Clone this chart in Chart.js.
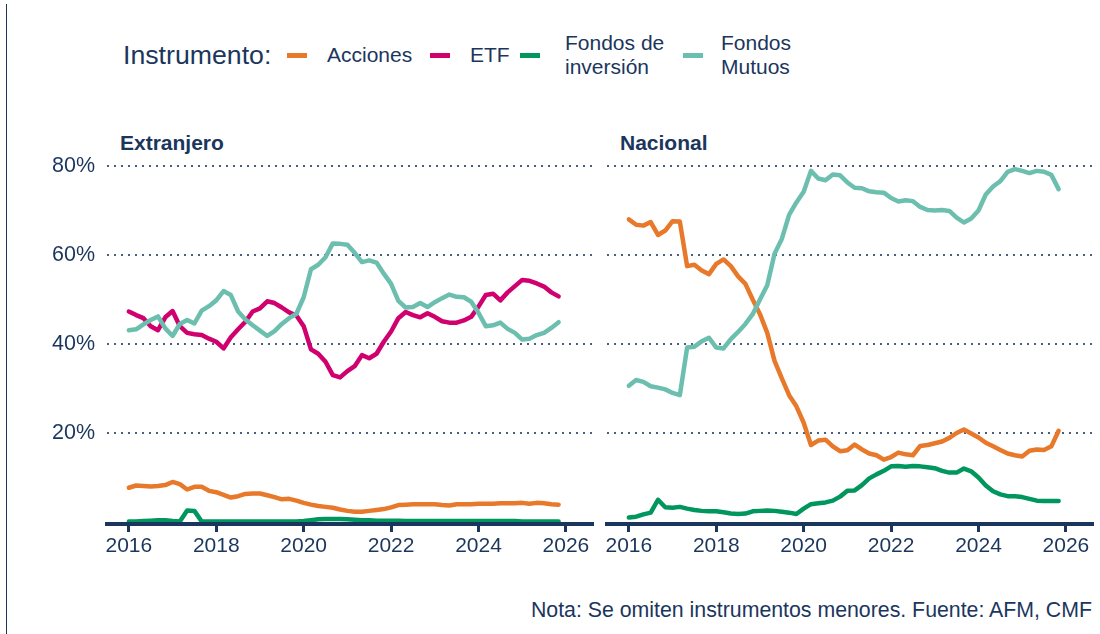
<!DOCTYPE html>
<html>
<head>
<meta charset="utf-8">
<script src="https://cdn.jsdelivr.net/npm/chart.js@4.4.1/dist/chart.umd.min.js"></script>
<style>
  body { margin: 0; background: #fff; }
  #page {
    position: relative; width: 1100px; height: 634px; overflow: hidden;
    font-family: "Liberation Sans", Arial, sans-serif; color: #1b365d;
  }
  #edge { position: absolute; left: 6px; top: 4px; width: 1px; height: 630px; background: #1b365d; }
  .txt { position: absolute; white-space: nowrap; }
  .sw { position: absolute; width: 20px; height: 5px; }
  canvas { position: absolute; top: 155px; }
</style>
</head>
<body>
<div id="page">
  <div id="edge"></div>

  <!-- leyenda -->
  <div class="txt" style="left:123px; top:40px; font-size:26.7px; line-height:30px;">Instrumento:</div>
  <div class="sw" style="left:287px; top:53px; background:#e8792b;"></div>
  <div class="txt" style="left:327px; top:43px; font-size:21px; line-height:24px;">Acciones</div>
  <div class="sw" style="left:430px; top:53px; background:#d0006f;"></div>
  <div class="txt" style="left:470px; top:43px; font-size:21px; line-height:24px;">ETF</div>
  <div class="sw" style="left:520px; top:53px; background:#00965e;"></div>
  <div class="txt" style="left:565px; top:31px; font-size:21px; line-height:24px;">Fondos de<br>inversión</div>
  <div class="sw" style="left:683px; top:53px; background:#6cbfaf;"></div>
  <div class="txt" style="left:721px; top:31px; font-size:21px; line-height:24px;">Fondos<br>Mutuos</div>

  <!-- títulos de panel -->
  <div class="txt" style="left:120px; top:131px; font-size:21px; line-height:24px; font-weight:bold;">Extranjero</div>
  <div class="txt" style="left:620px; top:131px; font-size:21px; line-height:24px; font-weight:bold;">Nacional</div>

  <canvas id="chartExt" width="600" height="420" style="left:0px;"></canvas>
  <canvas id="chartNac" width="500" height="420" style="left:600px;"></canvas>

  <div class="txt" style="right:8px; top:598px; font-size:21.3px; line-height:24px;">Nota: Se omiten instrumentos menores. Fuente: AFM, CMF</div>
</div>

<script>
/* =========================================================
   DATA
========================================================= */
const fechas = [
    '2016-01', '2016-03', '2016-05', '2016-07', '2016-09', '2016-11',
    '2017-01', '2017-03', '2017-05', '2017-07', '2017-09', '2017-11',
    '2018-01', '2018-03', '2018-05', '2018-07', '2018-09', '2018-11',
    '2019-01', '2019-03', '2019-05', '2019-07', '2019-09', '2019-11',
    '2020-01', '2020-03', '2020-05', '2020-07', '2020-09', '2020-11',
    '2021-01', '2021-03', '2021-05', '2021-07', '2021-09', '2021-11',
    '2022-01', '2022-03', '2022-05', '2022-07', '2022-09', '2022-11',
    '2023-01', '2023-03', '2023-05', '2023-07', '2023-09', '2023-11',
    '2024-01', '2024-03', '2024-05', '2024-07', '2024-09', '2024-11',
    '2025-01', '2025-03', '2025-05', '2025-07', '2025-09', '2025-11'
];

// Extranjero (% del total)
const extAcciones = [
    7.7, 8.2, 8.1, 8.0, 8.1, 8.3, 9.0, 8.5, 7.3, 7.9,
    7.9, 7.0, 6.7, 6.1, 5.5, 5.8, 6.3, 6.4, 6.4, 6.0,
    5.6, 5.1, 5.2, 4.8, 4.3, 3.9, 3.6, 3.4, 3.2, 2.8,
    2.5, 2.3, 2.3, 2.5, 2.7, 2.9, 3.3, 3.8, 3.9, 4.0,
    4.0, 4.0, 4.0, 3.8, 3.7, 4.0, 4.0, 4.0, 4.1, 4.1,
    4.1, 4.2, 4.2, 4.2, 4.3, 4.1, 4.3, 4.2, 4.0, 3.9
];
const extETF = [
    47.3, 46.5, 45.8, 44.0, 43.1, 46.0, 47.4, 44.0, 42.5, 42.2,
    42.0, 41.2, 40.5, 39.0, 41.5, 43.3, 45.0, 47.3, 48.0, 49.6,
    49.2, 48.2, 47.1, 46.4, 44.0, 38.8, 37.8, 36.0, 33.0, 32.5,
    33.9, 35.0, 37.5, 36.8, 37.8, 40.5, 42.8, 45.8, 47.2, 46.5,
    46.0, 46.9, 46.1, 45.1, 44.8, 44.8, 45.3, 46.1, 48.4, 51.0,
    51.3, 49.8, 51.6, 53.0, 54.4, 54.2, 53.6, 52.9, 51.6, 50.7
];
const extFondosInv = [
    0.1, 0.1, 0.2, 0.3, 0.4, 0.4, 0.2, 0.1, 2.6, 2.5,
    0.1, 0.1, 0.1, 0.1, 0.1, 0.1, 0.1, 0.1, 0.1, 0.1,
    0.1, 0.1, 0.1, 0.1, 0.2, 0.4, 0.6, 0.7, 0.7, 0.7,
    0.6, 0.5, 0.4, 0.4, 0.3, 0.3, 0.3, 0.3, 0.2, 0.2,
    0.2, 0.2, 0.2, 0.2, 0.2, 0.2, 0.2, 0.2, 0.2, 0.2,
    0.2, 0.2, 0.2, 0.2, 0.1, 0.1, 0.1, 0.1, 0.1, 0.1
];
const extFondosMut = [
    43.1, 43.3, 44.4, 45.4, 46.2, 43.5, 41.8, 44.5, 45.4, 44.6,
    47.5, 48.5, 49.8, 51.9, 51.0, 47.3, 45.5, 44.2, 43.0, 41.8,
    42.9, 44.5, 45.8, 46.8, 50.5, 56.8, 57.8, 59.5, 62.6, 62.5,
    62.3, 60.5, 58.4, 58.8, 58.3, 55.8, 53.5, 49.7, 48.2, 48.3,
    49.2, 48.3, 49.4, 50.3, 51.1, 50.6, 50.5, 49.5, 47.0, 44.0,
    44.2, 44.8, 43.4, 42.5, 41.0, 41.2, 42.0, 42.5, 43.6, 44.9
];

// Nacional (% del total)
const nacAcciones = [
    68.0, 66.8, 66.6, 67.4, 64.5, 65.5, 67.6, 67.5, 57.5, 57.8,
    56.5, 55.7, 58.0, 59.0, 57.5, 55.2, 53.5, 50.0, 46.7, 42.5,
    36.2, 32.3, 28.5, 26.0, 22.3, 17.3, 18.3, 18.5, 17.0, 15.9,
    16.1, 17.4, 16.3, 15.4, 15.0, 14.0, 14.6, 15.6, 15.2, 15.0,
    17.1, 17.3, 17.7, 18.1, 18.9, 20.0, 20.8, 19.9, 19.0, 17.8,
    17.0, 16.2, 15.4, 15.0, 14.7, 16.0, 16.3, 16.2, 17.0, 20.5
];
const nacFondosInv = [
    1.0, 1.2, 1.7, 2.1, 5.0, 3.3, 3.2, 3.4, 3.0, 2.7,
    2.5, 2.4, 2.4, 2.2, 1.9, 1.8, 1.9, 2.4, 2.5, 2.6,
    2.5, 2.3, 2.1, 1.8, 3.0, 4.0, 4.2, 4.4, 4.8, 5.7,
    7.0, 7.1, 8.3, 9.8, 10.7, 11.5, 12.5, 12.6, 12.4, 12.6,
    12.5, 12.3, 12.1, 11.5, 11.1, 11.1, 12.0, 11.4, 10.0, 8.2,
    6.9, 6.2, 5.8, 5.8, 5.6, 5.2, 4.8, 4.7, 4.7, 4.7
];
const nacFondosMut = [
    30.6, 31.9, 31.5, 30.5, 30.2, 29.8, 29.0, 28.5, 39.2, 39.4,
    40.6, 41.4, 39.2, 39.0, 41.1, 42.7, 44.5, 46.7, 50.0, 53.2,
    60.3, 63.6, 69.0, 71.8, 74.2, 78.9, 77.2, 76.8, 78.1, 77.9,
    76.3, 75.1, 75.0, 74.3, 74.1, 74.0, 72.8, 72.0, 72.3, 72.1,
    70.8, 70.1, 70.0, 70.1, 69.9, 68.4, 67.3, 68.2, 70.0, 73.6,
    75.4, 76.6, 78.7, 79.3, 78.9, 78.4, 78.9, 78.7, 78.0, 74.8
];

const xTicks = [2016, 2018, 2020, 2022, 2024, 2026];
const yTicks = [20, 40, 60, 80];

/* =========================================================
   STYLE
========================================================= */
const navy = '#1b365d';
const fontFamily = '"Liberation Sans", Arial, sans-serif';
const colores = {
    acciones: '#e8792b',
    etf: '#d0006f',
    fondosInv: '#00965e',
    fondosMut: '#6cbfaf'
};

/* =========================================================
   HELPER
========================================================= */
function anioDecimal(f) {
    const [y, m] = f.split('-').map(Number);
    return y + (m - 1) / 12;
}

function serie(values, color) {
    return {
        data: values.map((v, i) => ({ x: anioDecimal(fechas[i]), y: v })),
        borderColor: color,
        backgroundColor: color
    };
}

function panelOptions(conEtiquetasY) {
    return {
        responsive: false,
        animation: false,
        devicePixelRatio: 1,
        layout: { padding: { top: 8, right: 7, left: 0, bottom: 0 } },
        plugins: {
            legend: { display: false },
            tooltip: { enabled: false }
        },
        elements: {
            point: { radius: 0 },
            line: {
                borderWidth: 4.5,
                tension: 0,
                borderJoinStyle: 'round',
                borderCapStyle: 'round'
            }
        },
        scales: {
            x: {
                type: 'linear',
                min: 2015.5,
                max: 2026.62,
                afterBuildTicks: axis => {
                    axis.ticks = xTicks.map(v => ({ value: v }));
                },
                afterFit: axis => {
                    axis.height = 51;
                    axis.paddingLeft = 0;
                    axis.paddingRight = 0;
                },
                grid: {
                    drawOnChartArea: false,
                    drawTicks: true,
                    tickLength: 8,
                    tickWidth: 3,
                    tickColor: navy
                },
                border: { display: true, color: navy, width: 4, z: 1 },
                ticks: {
                    color: navy,
                    font: { size: 21, family: fontFamily },
                    padding: 2,
                    maxRotation: 0,
                    autoSkip: false,
                    callback: v => String(v)
                }
            },
            y: {
                type: 'linear',
                min: -0.45,
                max: 80.67,
                afterBuildTicks: axis => {
                    axis.ticks = yTicks.map(v => ({ value: v }));
                },
                afterFit: axis => {
                    axis.width = conEtiquetasY ? 107 : 7;
                    axis.paddingTop = 0;
                    axis.paddingBottom = 0;
                },
                grid: {
                    drawTicks: false,
                    color: 'rgba(27,54,93,0.8)',
                    lineWidth: 2
                },
                border: { display: false, dash: [2, 5] },
                ticks: {
                    display: conEtiquetasY,
                    color: navy,
                    font: { size: 21.5, family: fontFamily },
                    padding: 12,
                    callback: v => v + '%'
                }
            }
        }
    };
}

/* =========================================================
   CHART INIT
========================================================= */
new Chart(document.getElementById('chartExt'), {
    type: 'line',
    data: {
        datasets: [
            serie(extFondosMut, colores.fondosMut),
            serie(extFondosInv, colores.fondosInv),
            serie(extETF, colores.etf),
            serie(extAcciones, colores.acciones)
        ]
    },
    options: panelOptions(true)
});

new Chart(document.getElementById('chartNac'), {
    type: 'line',
    data: {
        datasets: [
            serie(nacFondosMut, colores.fondosMut),
            serie(nacFondosInv, colores.fondosInv),
            serie(nacAcciones, colores.acciones)
        ]
    },
    options: panelOptions(false)
});
</script>
</body>
</html>
